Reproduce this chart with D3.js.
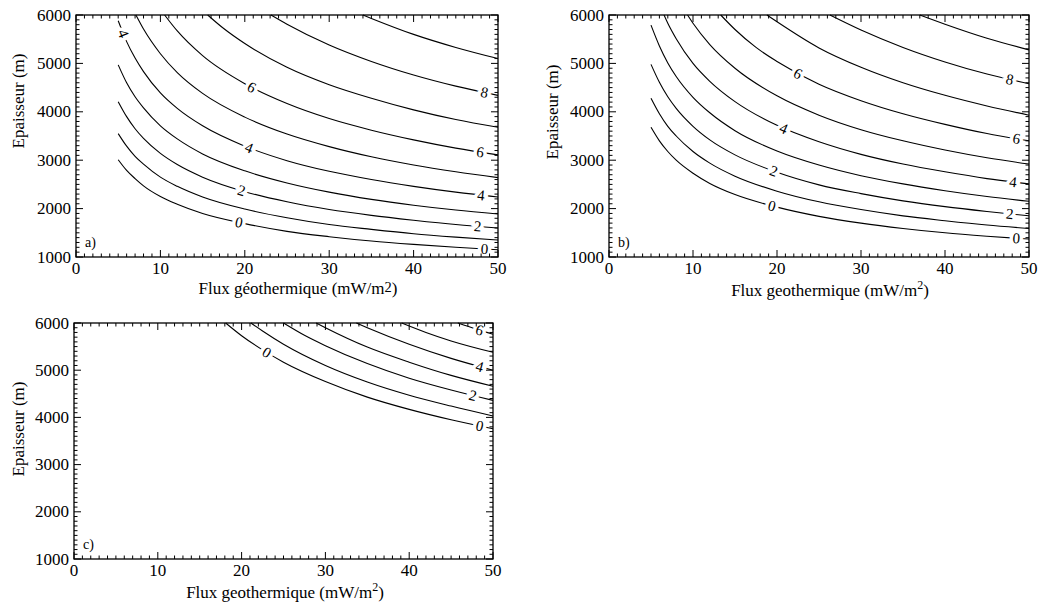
<!DOCTYPE html>
<html>
<head>
<meta charset="utf-8">
<script src="https://cdn.jsdelivr.net/npm/d3@7"></script>
<style>
  body { margin: 0; background: #fff; }
  text { font-family: "Liberation Serif", "Times New Roman", serif; fill: #000; }
</style>
</head>
<body>
<svg id="chart" width="1040" height="606"></svg>
<script>
// axis ticks, shared by the three panels
const xTicks = [0, 10, 20, 30, 40, 50];
const yTicks = [1000, 2000, 3000, 4000, 5000, 6000];

// contour lines: [flux, epaisseur], index = contour level
const linesA = [
  [[5,3010],[6,2790],[7,2620],[8,2470],[10,2250],[12,2090],[15,1900],[20,1690],[25,1530],[30,1420],[35,1330],[40,1260],[45,1200],[50,1150]],
  [[5,3550],[6,3290],[7,3080],[8,2920],[10,2650],[12,2460],[15,2240],[20,1990],[25,1810],[30,1670],[35,1570],[40,1480],[45,1410],[50,1350]],
  [[5,4210],[6,3900],[7,3650],[8,3450],[10,3140],[12,2910],[15,2650],[20,2350],[25,2140],[30,1980],[35,1860],[40,1760],[45,1670],[50,1600]],
  [[5,4970],[6,4600],[7,4310],[8,4080],[10,3710],[12,3440],[15,3130],[20,2780],[25,2530],[30,2340],[35,2190],[40,2070],[45,1970],[50,1890]],
  [[5,5880],[6,5450],[7,5110],[8,4830],[10,4390],[12,4070],[15,3710],[20,3290],[25,2990],[30,2770],[35,2600],[40,2460],[45,2340],[50,2240]],
  [[7.1,6000],[8,5710],[10,5200],[12,4810],[15,4380],[20,3890],[25,3540],[30,3280],[35,3070],[40,2900],[45,2760],[50,2640]],
  [[10.5,6000],[12,5670],[15,5160],[20,4580],[25,4170],[30,3860],[35,3620],[40,3420],[45,3250],[50,3110]],
  [[15.6,6000],[17.5,5720],[20,5410],[25,4920],[30,4560],[35,4280],[40,4040],[45,3840],[50,3680]],
  [[23.1,6000],[25,5810],[30,5380],[35,5040],[40,4760],[45,4530],[50,4340]],
  [[34,6000],[35,5930],[40,5600],[45,5330],[50,5100]]
];
const labelsA = [[4,5.6],[6,20.8],[4,20.5],[2,19.6],[0,19.3],[8,48.4],[6,47.9],[4,48.0],[2,47.6],[0,48.4]];

const linesB = [
  [[5,3680],[6,3400],[7,3180],[8,3000],[10,2730],[12,2520],[15,2290],[20,2030],[25,1840],[30,1700],[35,1590],[40,1500],[45,1430],[50,1370]],
  [[5,4280],[6,3960],[7,3700],[8,3500],[10,3180],[12,2940],[15,2670],[20,2360],[25,2140],[30,1980],[35,1850],[40,1750],[45,1660],[50,1590]],
  [[5,4980],[6,4610],[7,4310],[8,4070],[10,3700],[12,3420],[15,3110],[20,2750],[25,2490],[30,2310],[35,2160],[40,2040],[45,1940],[50,1850]],
  [[5,5790],[6,5360],[7,5010],[8,4730],[10,4300],[12,3980],[15,3610],[20,3190],[25,2900],[30,2680],[35,2510],[40,2370],[45,2250],[50,2150]],
  [[6.55,6000],[7,5830],[8,5510],[10,5000],[12,4630],[15,4210],[20,3720],[25,3380],[30,3120],[35,2920],[40,2760],[45,2620],[50,2510]],
  [[9.35,6000],[10,5830],[12,5390],[15,4900],[20,4330],[25,3930],[30,3630],[35,3400],[40,3210],[45,3050],[50,2920]],
  [[13.3,6000],[15,5700],[17.5,5330],[20,5040],[25,4570],[30,4230],[35,3960],[40,3740],[45,3550],[50,3400]],
  [[18.8,6000],[20,5860],[25,5320],[30,4920],[35,4600],[40,4340],[45,4120],[50,3930]],
  [[26.3,6000],[30,5690],[35,5330],[40,5030],[45,4780],[50,4580]],
  [[37,6000],[40,5810],[45,5520],[50,5280]]
];
const labelsB = [[6,22.5],[4,20.8],[2,19.6],[0,19.4],[8,47.7],[6,48.5],[4,48.1],[2,47.7],[0,48.5]];

const linesC = [
  [[18.1,6000],[20,5730],[22.5,5430],[25,5170],[30,4760],[35,4430],[40,4170],[45,3950],[50,3760]],
  [[21.1,6000],[22.5,5830],[25,5550],[30,5100],[35,4750],[40,4470],[45,4240],[50,4030]],
  [[25,6000],[27.5,5740],[30,5520],[35,5140],[40,4830],[45,4580],[50,4360]],
  [[28.9,6000],[30,5900],[35,5490],[40,5170],[45,4890],[50,4660]],
  [[33.7,6000],[35,5900],[40,5550],[45,5250],[50,5000]],
  [[39.1,6000],[42,5800],[45,5620],[50,5380]],
  [[45.8,6000],[48,5870],[50,5760]]
];
const labelsC = [[0,23.0],[0,48.4],[2,47.6],[4,48.4],[6,48.4]];

const panels = [
  {lines: linesA, labels: labelsA, left: 76, right: 498, top: 15, bottom: 257, tag: "a)",
   xTitle: "Flux géothermique (mW/m", sup: false, xTitleX: 298, xTitleY: 294, yTitleX: 24, yTitleY: 101},
  {lines: linesB, labels: labelsB, left: 609, right: 1029, top: 15, bottom: 257, tag: "b)",
   xTitle: "Flux geothermique (mW/m", sup: true, xTitleX: 830, xTitleY: 296, yTitleX: 558, yTitleY: 112},
  {lines: linesC, labels: labelsC, left: 74, right: 493, top: 323, bottom: 559, tag: "c)",
   xTitle: "Flux geothermique (mW/m", sup: true, xTitleX: 285, xTitleY: 598, yTitleX: 24, yTitleY: 429}
];

const svg = d3.select("#chart");

const drawPanel = (p) => {
  const x = d3.scaleLinear().domain([0, 50]).range([p.left, p.right]);
  const y = d3.scaleLinear().domain([1000, 6000]).range([p.bottom, p.top]);
  const g = svg.append("g");

  const line = d3.line()
    .x((d) => x(d[0]))
    .y((d) => y(d[1]))
    .curve(d3.curveMonotoneX);

  const paths = g.selectAll("path.contour")
    .data(p.lines)
    .join("path")
    .attr("class", "contour")
    .attr("fill", "none")
    .attr("stroke", "#000")
    .attr("stroke-width", 1.1)
    .attr("d", line);

  // contour labels, rotated along the line, white halo cuts the line
  p.labels.forEach(([level, lx]) => {
    const node = paths.nodes()[level];
    const len = node.getTotalLength();
    const target = x(lx);
    let lo = 0, hi = len;
    for (let i = 0; i < 40; i++) {
      const mid = (lo + hi) / 2;
      if (node.getPointAtLength(mid).x < target) lo = mid; else hi = mid;
    }
    const pt = node.getPointAtLength(lo);
    const a = node.getPointAtLength(Math.max(0, lo - 5));
    const b = node.getPointAtLength(Math.min(len, lo + 5));
    const angle = Math.atan2(b.y - a.y, b.x - a.x) * 180 / Math.PI;
    g.append("text")
      .attr("transform", `translate(${pt.x},${pt.y}) rotate(${angle})`)
      .attr("text-anchor", "middle")
      .attr("dy", "0.33em")
      .attr("font-size", 15)
      .attr("stroke", "#fff")
      .attr("stroke-width", 7)
      .attr("paint-order", "stroke")
      .text(level);
  });

  // frame and inward ticks on all four sides
  g.append("rect")
    .attr("x", p.left).attr("y", p.top)
    .attr("width", p.right - p.left).attr("height", p.bottom - p.top)
    .attr("fill", "none").attr("stroke", "#000").attr("stroke-width", 1.3);

  const minorX = d3.range(0, 51, 1);
  const minorY = d3.range(1000, 6001, 100);
  const tickLen = (major) => major ? 7 : 3.5;

  minorX.forEach((v) => {
    const len = tickLen(v % 10 === 0);
    g.append("line").attr("x1", x(v)).attr("x2", x(v)).attr("y1", p.bottom).attr("y2", p.bottom - len)
      .attr("stroke", "#000").attr("stroke-width", 1);
    g.append("line").attr("x1", x(v)).attr("x2", x(v)).attr("y1", p.top).attr("y2", p.top + len)
      .attr("stroke", "#000").attr("stroke-width", 1);
  });
  minorY.forEach((v) => {
    const len = tickLen(v % 1000 === 0);
    g.append("line").attr("x1", p.left).attr("x2", p.left + len).attr("y1", y(v)).attr("y2", y(v))
      .attr("stroke", "#000").attr("stroke-width", 1);
    g.append("line").attr("x1", p.right).attr("x2", p.right - len).attr("y1", y(v)).attr("y2", y(v))
      .attr("stroke", "#000").attr("stroke-width", 1);
  });

  g.selectAll("text.xtick").data(xTicks).join("text")
    .attr("class", "xtick")
    .attr("x", (d) => x(d)).attr("y", p.bottom + 17)
    .attr("text-anchor", "middle").attr("font-size", 17)
    .text((d) => d);
  g.selectAll("text.ytick").data(yTicks).join("text")
    .attr("class", "ytick")
    .attr("x", p.left - 5).attr("y", (d) => y(d)).attr("dy", "0.33em")
    .attr("text-anchor", "end").attr("font-size", 17)
    .text((d) => d);

  const xt = g.append("text")
    .attr("x", p.xTitleX).attr("y", p.xTitleY)
    .attr("text-anchor", "middle").attr("font-size", 17)
    .text(p.xTitle);
  if (p.sup) {
    xt.append("tspan").attr("font-size", 12).attr("dy", -7).text("2");
    xt.append("tspan").attr("dy", 7).text(")");
  } else {
    xt.append("tspan").attr("font-size", 14.5).attr("dy", -2).text("2");
    xt.append("tspan").attr("dy", 2).text(")");
  }

  g.append("text")
    .attr("transform", `translate(${p.yTitleX},${p.yTitleY}) rotate(-90)`)
    .attr("text-anchor", "middle").attr("font-size", 17)
    .text("Epaisseur (m)");

  g.append("text")
    .attr("x", p.left + 9).attr("y", p.bottom - 10)
    .attr("font-size", 14)
    .text(p.tag);
};

panels.forEach(drawPanel);
</script>
</body>
</html>
